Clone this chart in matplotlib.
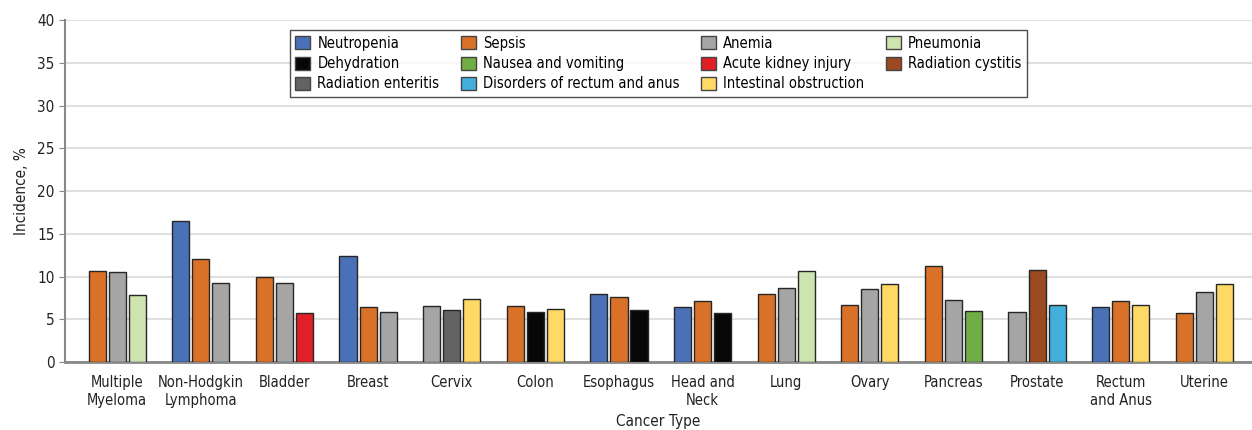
import matplotlib
matplotlib.use("Agg")
import matplotlib.pyplot as plt
from matplotlib.patches import Patch
import numpy as np

plt.rcParams['font.family'] = ['Liberation Sans Narrow', 'DejaVu Sans']
plt.rcParams['font.stretch'] = 'condensed'

### data ###
cancer_types = ["Multiple\nMyeloma", "Non-Hodgkin\nLymphoma", "Bladder", "Breast", "Cervix",
                "Colon", "Esophagus", "Head and\nNeck", "Lung", "Ovary", "Pancreas",
                "Prostate", "Rectum\nand Anus", "Uterine"]

group_events = [
    ["Sepsis", "Anemia", "Pneumonia"],
    ["Neutropenia", "Sepsis", "Anemia"],
    ["Sepsis", "Anemia", "Acute kidney injury"],
    ["Neutropenia", "Sepsis", "Anemia"],
    ["Anemia", "Radiation enteritis", "Intestinal obstruction"],
    ["Sepsis", "Dehydration", "Intestinal obstruction"],
    ["Neutropenia", "Sepsis", "Dehydration"],
    ["Neutropenia", "Sepsis", "Dehydration"],
    ["Sepsis", "Anemia", "Pneumonia"],
    ["Sepsis", "Anemia", "Intestinal obstruction"],
    ["Sepsis", "Anemia", "Nausea and vomiting"],
    ["Anemia", "Radiation cystitis", "Disorders of rectum and anus"],
    ["Neutropenia", "Sepsis", "Intestinal obstruction"],
    ["Sepsis", "Anemia", "Intestinal obstruction"],
]

group_values = [
    [10.6, 10.5, 7.9],
    [16.5, 12.1, 9.3],
    [10.0, 9.2, 5.7],
    [12.4, 6.4, 5.8],
    [6.6, 6.1, 7.4],
    [6.6, 5.9, 6.2],
    [8.0, 7.6, 6.1],
    [6.5, 7.2, 5.7],
    [8.0, 8.7, 10.7],
    [6.7, 8.5, 9.1],
    [11.2, 7.3, 6.0],
    [5.8, 10.8, 6.7],
    [6.4, 7.1, 6.7],
    [5.7, 8.2, 9.1],
]

event_colors = {
    "Neutropenia": "#4a71b8",
    "Sepsis": "#d97228",
    "Anemia": "#a5a5a5",
    "Pneumonia": "#cde3b0",
    "Dehydration": "#070707",
    "Nausea and vomiting": "#70ad47",
    "Acute kidney injury": "#e01f26",
    "Radiation cystitis": "#9c4a20",
    "Radiation enteritis": "#626462",
    "Disorders of rectum and anus": "#41aedc",
    "Intestinal obstruction": "#ffd966",
}

# legend order (column by column, as matplotlib fills)
legend_order = ["Neutropenia", "Dehydration", "Radiation enteritis",
                "Sepsis", "Nausea and vomiting", "Disorders of rectum and anus",
                "Anemia", "Acute kidney injury", "Intestinal obstruction",
                "Pneumonia", "Radiation cystitis"]

### plotting ###
fig = plt.figure(figsize=(12.52, 4.30), dpi=100)
ax = fig.add_axes([0.052, 0.158, 0.948, 0.795])

width = 0.205
step = 0.24
for i in range(len(cancer_types)):
    for j in range(3):
        ev = group_events[i][j]
        ax.bar(i + (j - 1) * step, group_values[i][j], width,
               color=event_colors[ev], edgecolor="#262626", linewidth=1.0, zorder=3)

ax.set_xlim(-0.623, 13.57)
ax.set_ylim(0, 40)
ax.set_yticks(np.arange(0, 41, 5))
ax.set_xticks(range(len(cancer_types)))
ax.set_xticklabels(cancer_types, fontsize=10.5, color="#222222", linespacing=1.3)
ax.tick_params(axis='x', length=0, pad=9)
ax.tick_params(axis='y', labelsize=11, length=4, color="#888888", labelcolor="#222222")
ax.grid(axis='y', color="#e0e0e0", linewidth=1.5, zorder=0)

for s in ["top", "right"]:
    ax.spines[s].set_visible(False)
ax.spines["left"].set_color("#888888")
ax.spines["bottom"].set_color("#888888")
ax.spines["left"].set_linewidth(1.5)
ax.spines["bottom"].set_linewidth(2)

ax.set_ylabel("Incidence, %", fontsize=11, color="#222222", labelpad=6)
ax.set_xlabel("Cancer Type", fontsize=11, color="#222222", labelpad=4)

handles = [Patch(facecolor=event_colors[e], edgecolor="#444444", label=e) for e in legend_order]
leg = ax.legend(handles=handles, ncol=4, loc="upper center", bbox_to_anchor=(0.5, 0.971),
                borderaxespad=0, fontsize=10.5, frameon=True, fancybox=False, edgecolor="#222222",
                handlelength=1.0, handleheight=1.0, handletextpad=0.5,
                columnspacing=1.5, labelspacing=0.35, borderpad=0.4)
leg.get_frame().set_linewidth(1.0)

fig.savefig("out.png", dpi=100)
